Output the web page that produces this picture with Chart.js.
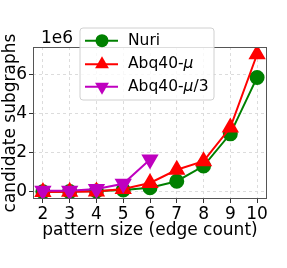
<!DOCTYPE html>
<html><head><meta charset="utf-8">
<script src="https://cdn.jsdelivr.net/npm/chart.js@4"></script>
<style>html,body{margin:0;padding:0;background:#fff;}#c{display:block;}</style>
</head><body>
<canvas id="c" width="287" height="268"></canvas>
<script>
const patternSizes = [2, 3, 4, 5, 6, 7, 8, 9, 10];
const nuri = [0.01e6, 0.02e6, 0.05e6, 0.10e6, 0.22e6, 0.55e6, 1.33e6, 2.98e6, 5.87e6];
const abqMu = [0.005e6, 0.01e6, 0.03e6, 0.15e6, 0.46e6, 1.14e6, 1.58e6, 3.3e6, 7.06e6];
const abqMuSizes = [2, 3, 4, 5, 6];
const abqMu3 = [0.06e6, 0.06e6, 0.15e6, 0.42e6, 1.67e6];
const yTicks = [0, 2e6, 4e6, 6e6];
const legendLabels = [["Nuri"], ["Abq40-", "μ"], ["Abq40-", "μ", "/3"]];

const FONT = "'DejaVu Sans', sans-serif";
const pts = (xs, ys) => xs.map((x, i) => ({x, y: ys[i]}));

const GREEN = '#008000', RED = '#ff0000', MAG = '#bf00bf';

const frame = {
  id: 'frame',
  afterDatasetsDraw(chart) {
    const {ctx, chartArea: a} = chart;
    ctx.save();
    ctx.strokeStyle = '#555';
    ctx.lineWidth = 1;
    ctx.strokeRect(a.left + 0.5, a.top + 0.5, a.right - a.left - 1, a.bottom - a.top - 1);
    ctx.restore();
  },
  afterDraw(chart) {
    const ctx = chart.ctx;
    ctx.save();
    ctx.fillStyle = '#000';
    ctx.font = `17px ${FONT}`;
    ctx.textBaseline = 'alphabetic';
    ctx.textAlign = 'left';
    ctx.fillText('1e6', 41, 43);
    const bx = 80, by = 28, bw = 134, bh = 72, r = 3;
    ctx.beginPath();
    ctx.moveTo(bx + r, by);
    ctx.arcTo(bx + bw, by, bx + bw, by + bh, r);
    ctx.arcTo(bx + bw, by + bh, bx, by + bh, r);
    ctx.arcTo(bx, by + bh, bx, by, r);
    ctx.arcTo(bx, by, bx + bw, by, r);
    ctx.closePath();
    ctx.fillStyle = 'rgba(255,255,255,0.8)';
    ctx.fill();
    ctx.strokeStyle = '#d0d0d0';
    ctx.lineWidth = 1;
    ctx.stroke();
    const rows = [40.7, 64.3, 86.7];
    chart.data.datasets.forEach((ds, i) => {
      const cy = rows[i];
      ctx.strokeStyle = ds.borderColor;
      ctx.lineWidth = 2;
      ctx.beginPath(); ctx.moveTo(85, cy); ctx.lineTo(118, cy); ctx.stroke();
      ctx.fillStyle = ds.pointBackgroundColor;
      Chart.helpers.drawPoint(ctx, {pointStyle: ds.pointStyle, rotation: ds.pointRotation, radius: ds.pointRadius, borderWidth: 0}, 102, cy);
      ctx.fillStyle = '#000';
      ctx.textBaseline = 'middle';
      let x = 128;
      legendLabels[i].forEach((part) => {
        ctx.font = (part === 'μ' ? 'oblique ' : '') + `15.5px ${FONT}`;
        ctx.fillText(part, x, cy);
        x += ctx.measureText(part).width;
      });
    });
    ctx.restore();
  }
};

new Chart(document.getElementById('c'), {
  type: 'line',
  data: {
    datasets: [
      {label: 'Nuri', data: pts(patternSizes, nuri), borderColor: GREEN, backgroundColor: GREEN,
       pointBackgroundColor: GREEN, pointBorderColor: GREEN, pointStyle: 'circle', pointRadius: 6.5,
       pointRotation: 0, borderWidth: 2, order: 2},
      {label: 'Abq40-μ', data: pts(patternSizes, abqMu), borderColor: RED, backgroundColor: RED,
       pointBackgroundColor: RED, pointBorderColor: RED, pointStyle: 'triangle', pointRadius: 8,
       pointRotation: 0, borderWidth: 2, order: 1},
      {label: 'Abq40-μ/3', data: pts(abqMuSizes, abqMu3), borderColor: MAG, backgroundColor: MAG,
       pointBackgroundColor: MAG, pointBorderColor: MAG, pointStyle: 'triangle', pointRadius: 8,
       pointRotation: 180, borderWidth: 2, order: 0}
    ]
  },
  options: {
    responsive: false,
    animation: false,
    layout: {padding: {left: 0, top: 47, right: 20, bottom: 24}},
    plugins: {legend: {display: false}, tooltip: {enabled: false}},
    elements: {point: {borderWidth: 0}, line: {tension: 0}},
    scales: {
      x: {
        type: 'linear', min: 1.63, max: 10.37,
        afterFit(s) { s.height = 45; },
        afterBuildTicks(s) { s.ticks = patternSizes.map(v => ({value: v})); },
        ticks: {font: {family: FONT, size: 17}, color: '#000', padding: 1, maxRotation: 0,
                callback: v => String(v)},
        grid: {color: '#dcdcdc', tickLength: 4, tickColor: '#333', tickBorderDash: [], drawTicks: true},
        border: {display: false, dash: [3, 3]},
        title: {display: true, text: 'pattern size (edge count)', font: {family: FONT, size: 17}, color: '#000', padding: 3}
      },
      y: {
        min: -0.36e6, max: 7.43e6,
        afterFit(s) { s.width = 33; },
        afterBuildTicks(s) { s.ticks = yTicks.map(v => ({value: v})); },
        ticks: {font: {family: FONT, size: 17}, color: '#000', padding: 2,
                callback: v => String(Math.round(v / 1e6))},
        grid: {color: '#dcdcdc', tickLength: 4, tickColor: '#333', tickBorderDash: []},
        border: {display: false, dash: [3, 3]},
        title: {display: true, text: 'candidate subgraphs', font: {family: FONT, size: 17}, color: '#000', padding: 0}
      }
    }
  },
  plugins: [frame]
});
</script>
</body></html>
